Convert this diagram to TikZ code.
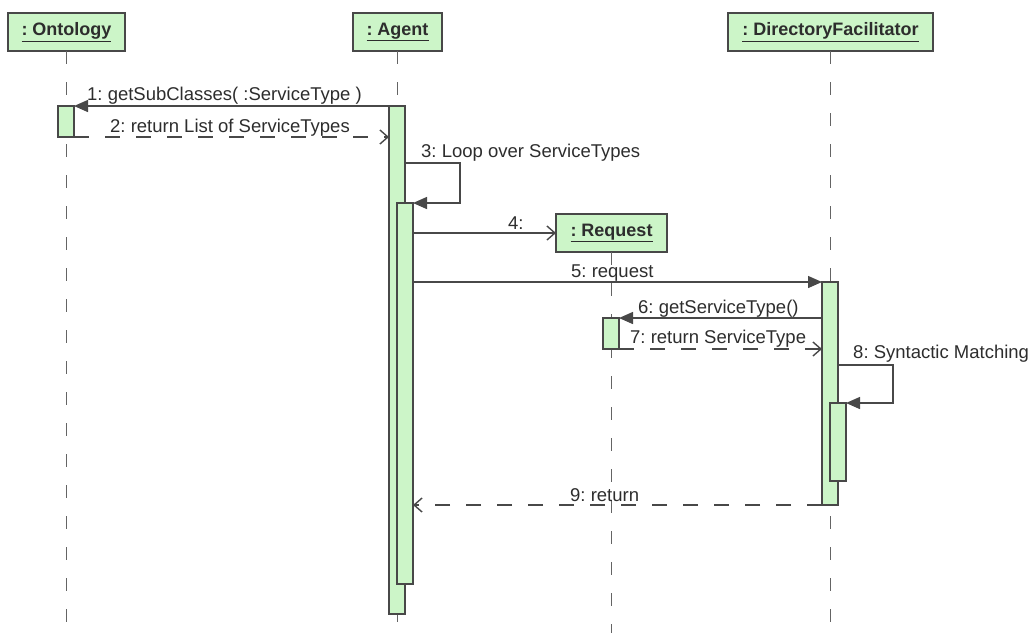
\documentclass[tikz,border=0pt]{standalone}
\usepackage{fontspec}
\setmainfont{Liberation Sans}
\usetikzlibrary{arrows.meta,calc}
\definecolor{actfill}{RGB}{204,245,200}
\definecolor{ln}{RGB}{72,72,72}
\definecolor{lifec}{RGB}{100,100,100}
\definecolor{txt}{RGB}{45,45,45}
\frenchspacing
\begin{document}
\begin{tikzpicture}[x=1pt,y=-1pt,
  hdr/.style={draw=ln, fill=actfill, line width=1.4pt, inner sep=0pt, outer sep=0pt,
    minimum height=38pt, font=\fontsize{18}{20}\selectfont\bfseries, text=txt},
  act/.style={draw=ln, fill=actfill, line width=1.2pt, inner sep=0pt, outer sep=0pt,
    minimum width=16pt, anchor=north west},
  life/.style={draw=lifec, line width=1.5pt, dash pattern=on 13pt off 18pt},
  call/.style={draw=ln, line width=1.4pt, -{Triangle[length=14pt,width=12pt]}},
  create/.style={draw=ln, line width=1.4pt, -{Straight Barb[length=8pt,width=14pt]}},
  ret/.style={draw=ln, line width=1.4pt, dash pattern=on 15pt off 16pt,
    -{Straight Barb[length=8pt,width=14pt]}},
  lbl/.style={font=\fontsize{18.5}{21}\selectfont, text=txt, anchor=base west, inner sep=0pt}
]
\useasboundingbox (0,0) rectangle (1032,633);
\coordinate (bottom) at (0,633);

% headers
\node[hdr, minimum width=117pt] (ont) at (66.5,32) {\underline{: Ontology}};
\node[hdr, minimum width=89pt] (ag) at (397.5,32) {\underline{: Agent}};
\node[hdr, minimum width=205pt] (df) at (830.5,32) {\underline{: DirectoryFacilitator}};
\node[hdr, minimum width=111pt] (req) at (611.5,233) {\underline{: Request}};

% lifelines
\draw[life] (ont.south) -- (ont.south |- bottom);
\draw[life] (ag.south) -- (ag.south |- bottom);
\draw[life] (df.south) -- (df.south |- bottom);
\draw[life] (req.south) -- (req.south |- bottom);

% activations
\node[act, minimum height=31pt] (ontact) at (58,106) {};
\node[act, minimum height=508pt] (agact) at (389,106) {};
\node[act, minimum height=381pt] (ag2) at (397,203) {};
\node[act, minimum height=223pt] (dfact) at (822,282) {};
\node[act, minimum height=78pt] (df2) at (830,403) {};
\node[act, minimum height=31pt] (reqact) at (603,318) {};

% messages
\draw[call] (agact.north west) -- (ontact.north east);
\node[lbl] (l1) at (87,100) {1: getSubClasses( :ServiceType )};

\draw[ret] (ontact.south east) -- (ontact.south east -| agact.west);
\node[lbl] (l2) at (110,132) {2: return List of ServiceTypes};

\coordinate (l3r) at (460,163);
\draw[call] (l3r -| agact.east) -- (l3r) |- (ag2.north east);
\node[lbl] (l3) at (421,157) {3: Loop over ServiceTypes};

\draw[create] (req.west -| ag2.east) -- (req.west);
\node[lbl] (l4) at (508,229) {4:};

\draw[call] (dfact.north west -| ag2.east) -- (dfact.north west);
\node[lbl] (l5) at (571,277) {5: request};

\draw[call] (reqact.north east -| dfact.west) -- (reqact.north east);
\node[lbl] (l6) at (638,313) {6: getServiceType()};

\draw[ret] (reqact.south east) -- (reqact.south east -| dfact.west);
\node[lbl] (l7) at (630,343) {7: return ServiceType};

\coordinate (l8r) at (893,365);
\draw[call] (l8r -| dfact.east) -- (l8r) |- (df2.north east);
\node[lbl] (l8) at (853,358) {8: Syntactic Matching};

\draw[ret] (dfact.south west) -- (dfact.south west -| ag2.east);
\node[lbl] (l9) at (570,501) {9: return};
\end{tikzpicture}
\end{document}
